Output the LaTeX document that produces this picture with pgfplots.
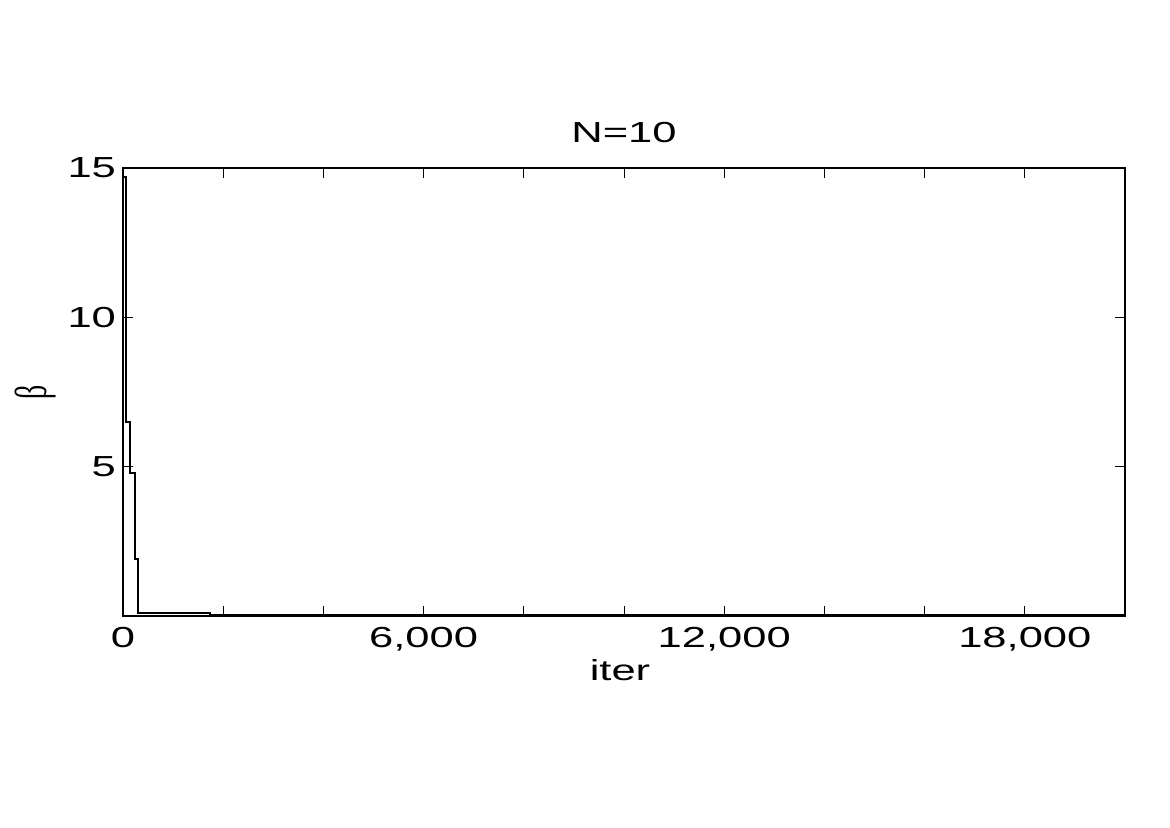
\documentclass[border=0pt]{standalone}
\usepackage{fontspec}
\setmainfont{Liberation Sans}[FakeStretch=1.5]
\newfontfamily\greekfont{Liberation Serif}
\usepackage{pgfplots}
\pgfplotsset{compat=1.18}

\begin{document}
\begin{tikzpicture}
\useasboundingbox (0,0) rectangle (585pt,413.5pt);
\begin{axis}[
  at={(61.5pt,105.5pt)}, anchor=south west,
  scale only axis, width=501pt, height=224pt,
  xmin=0, xmax=20000, ymin=0, ymax=15,
  scaled x ticks=false,
  xtick={0,2000,...,20000},
  xticklabels={{0},{},{},{6,000},{},{},{12,000},{},{},{18,000},{},{}},
  ytick={5,10,15},
  tick align=inside, major tick length=5pt,
  tick style={black, line width=0.5pt},
  axis line style={line width=0.6pt},
  /pgf/number format/assume math mode=true,
  tick label style={font=\fontsize{14.5}{16}\selectfont},
  xticklabel style={yshift=-2pt},
  title={N=10},
  title style={font=\fontsize{14.5}{16}\selectfont, at={(0.5,1)}, anchor=base, yshift=7pt},
  xlabel={iter},
  xlabel style={font=\fontsize{14.5}{16}\selectfont, at={(0.5,0)}, anchor=base, yshift=-32pt, xshift=-2pt},
  ylabel={\greekfont β},
  ylabel style={font=\fontsize{14}{16}\selectfont, at={(0,0.5)}, anchor=center, yshift=44pt, yscale=1.6},
]
\addplot[black, line width=1pt, const plot mark left] coordinates {
 (0,14.7)(50,6.5)(140,4.8)(240,1.9)(290,0.1)(1740,0.02)(20000,0.02)
};
\end{axis}
\end{tikzpicture}
\end{document}
